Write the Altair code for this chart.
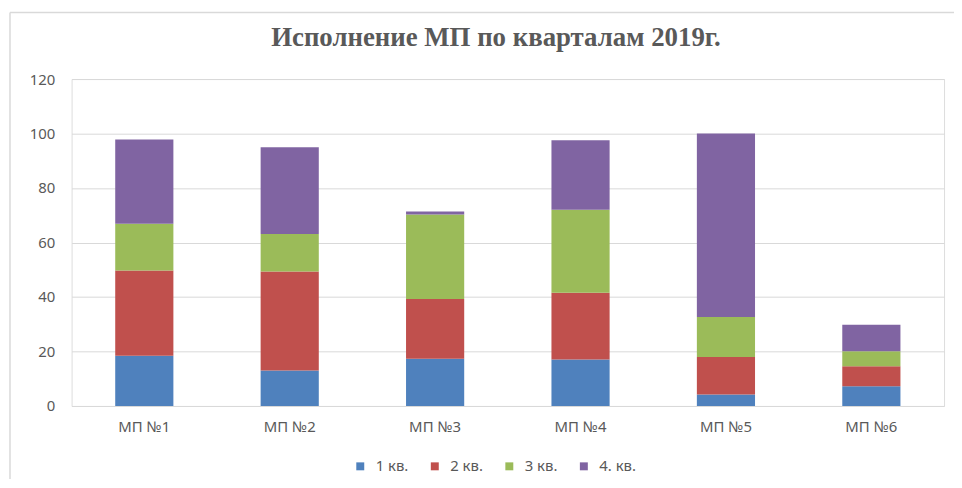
import altair as alt
import pandas as pd

categories = ["МП №1", "МП №2", "МП №3", "МП №4", "МП №5", "МП №6"]
quarters = ["1 кв.", "2 кв.", "3 кв.", "4. кв."]
q1 = [18.4, 13.0, 17.3, 17.1, 4.2, 7.2]
q2 = [31.3, 36.4, 22.0, 24.5, 13.8, 7.4]
q3 = [17.2, 13.7, 31.0, 30.4, 14.7, 5.5]
q4 = [30.9, 31.9, 1.1, 25.5, 67.3, 9.7]
colors = ["#4F81BD", "#C0504D", "#9BBB59", "#8064A2"]
y_ticks = [0, 20, 40, 60, 80, 100, 120]

rows = []
for qi, (qname, series) in enumerate(zip(quarters, [q1, q2, q3, q4])):
    for cat, v in zip(categories, series):
        rows.append({"category": cat, "quarter": qname, "qi": qi, "value": v})
df = pd.DataFrame(rows)

FONT = "Noto Sans"
GREY = "#595959"

bars = alt.Chart(df).mark_bar().encode(
    x=alt.X("category:N", sort=categories,
            scale=alt.Scale(paddingInner=0.6, paddingOuter=0.3),
            axis=alt.Axis(title=None, labelAngle=0, ticks=False, domain=False,
                          labelPadding=14, labelFontSize=15, labelColor=GREY,
                          labelFont=FONT)),
    y=alt.Y("value:Q", stack="zero",
            scale=alt.Scale(domain=[0, 120], nice=False),
            axis=alt.Axis(title=None, values=y_ticks, ticks=False, domain=False,
                          gridColor="#D9D9D9", gridWidth=1, labelPadding=17,
                          labelFontSize=15, labelColor=GREY, labelFont=FONT)),
    color=alt.Color("quarter:N", sort=quarters,
                    scale=alt.Scale(domain=quarters, range=colors),
                    legend=alt.Legend(title=None, orient="none", direction="horizontal",
                                      legendX=283, legendY=382, symbolType="square",
                                      symbolSize=64, symbolStrokeWidth=0,
                                      labelFontSize=15, labelColor=GREY, labelFont=FONT,
                                      columnPadding=19, labelOffset=8, padding=0)),
    order=alt.Order("qi:Q"),
)

frame_src = pd.DataFrame({"a": [0]})
left_border = alt.Chart(frame_src).mark_rule(color="#D9D9D9", strokeWidth=1.5).encode(
    x=alt.value(-62), y=alt.value(-67), y2=alt.value(420))
top_border = alt.Chart(frame_src).mark_rule(color="#D9D9D9", strokeWidth=1.5).encode(
    x=alt.value(-62), x2=alt.value(900), y=alt.value(-67))

chart = alt.layer(left_border, top_border, bars).properties(
    width=878, height=329,
    title=alt.TitleParams("Исполнение МП по кварталам 2019г.", font="Liberation Serif",
                          fontSize=27, fontWeight="bold", color=GREY,
                          anchor="middle", baseline="alphabetic", dx=-12, dy=62, offset=0),
    autosize=alt.AutoSizeParams(type="none"),
    padding={"left": 64, "top": 70, "right": 10, "bottom": 72},
).configure_view(stroke="transparent", strokeWidth=0).configure(background="white")

chart.save("out.html", embed_options={"renderer": "svg", "actions": False})
